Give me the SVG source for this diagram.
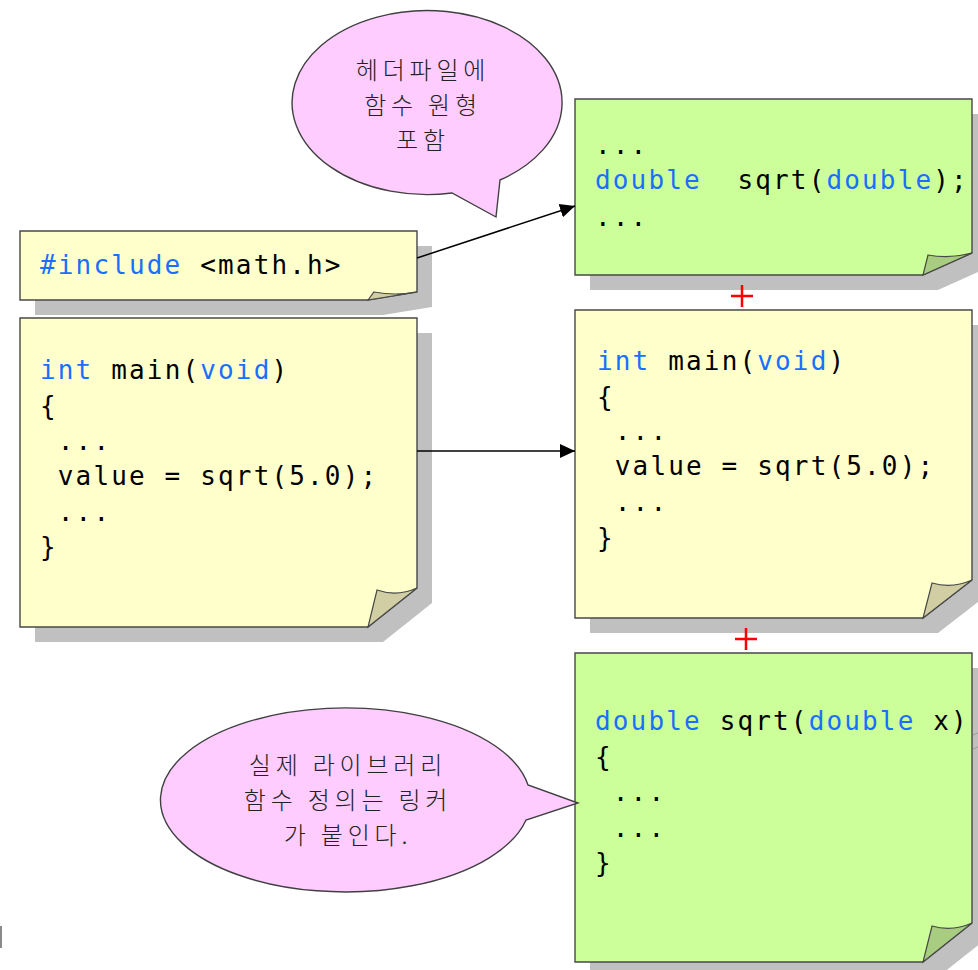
<svg xmlns="http://www.w3.org/2000/svg" width="978" height="970" viewBox="0 0 978 970">
<defs>
<style>
.shadow{fill:#c0c0c0;stroke:none}
.ybox{fill:#ffffcc;stroke:#484848;stroke-width:1.4}
.gbox{fill:#ccff99;stroke:#484848;stroke-width:1.4}
.yflap{fill:#d0cea2;stroke:#484848;stroke-width:1.2}
.gflap{fill:#a8cc80;stroke:#484848;stroke-width:1.2}
.code{font-family:"DejaVu Sans Mono","Liberation Mono",monospace;font-size:26px;letter-spacing:2.15px;fill:#000}
.kw{fill:#1a6fff}
.bubble{fill:#ffccff;stroke:#404040;stroke-width:1.4}
.ko{font-family:"Noto Sans CJK KR","Noto Sans",sans-serif;font-size:24px;letter-spacing:4.8px;font-weight:300;fill:#222;text-anchor:middle}
.conn{stroke:#000;stroke-width:1.5;fill:none}
.plus{stroke:#ff0000;stroke-width:2.5}
</style>
<marker id="arrow" markerUnits="userSpaceOnUse" markerWidth="16" markerHeight="16" viewBox="0 0 16 16" refX="15" refY="8" orient="auto">
<path d="M0,1 L15,8 L0,15 Z" fill="#000"/>
</marker>
</defs>
<rect width="978" height="970" fill="#ffffff"/>

<g id="include-note">
<path class="shadow" d="M35,246 H432 V307 L383,315 H35 Z"/>
<path class="ybox" d="M20,231 H417 V292 L368,300 H20 Z"/>
<path class="yflap" d="M368,300 L374,292 Q395,296 417,292 Z"/>
<text class="code" x="40" y="274"><tspan class="kw">#include</tspan> &lt;math.h&gt;</text>
</g>

<g id="main-left">
<path class="shadow" d="M35,333 H432 V603 L383,642 H35 Z"/>
<path class="ybox" d="M20,318 H417 V588 L368,627 H20 Z"/>
<path class="yflap" d="M368,627 L377,590 Q397,597 417,588 Z"/>
<text class="code" xml:space="preserve"><tspan x="40" y="379"><tspan class="kw">int</tspan> main(<tspan class="kw">void</tspan>)</tspan><tspan x="40" y="415">{</tspan><tspan x="40" y="450"> ...</tspan><tspan x="40" y="485"> value = sqrt(5.0);</tspan><tspan x="40" y="521"> ...</tspan><tspan x="40" y="556">}</tspan></text>
</g>

<g id="header-proto">
<path class="shadow" d="M590,114 H987 V268 L938,290 H590 Z"/>
<path class="gbox" d="M575,99 H972 V253 L923,275 H575 Z"/>
<path class="gflap" d="M923,275 L928,255 Q950,259 972,253 Z"/>
<text class="code" xml:space="preserve"><tspan x="595" y="154">...</tspan><tspan x="595" y="189"><tspan class="kw">double</tspan>  sqrt(<tspan class="kw">double</tspan>);</tspan><tspan x="595" y="226">...</tspan></text>
</g>

<g id="main-right">
<path class="shadow" d="M590,325 H987 V595 L938,633 H590 Z"/>
<path class="ybox" d="M575,310 H972 V580 L923,618 H575 Z"/>
<path class="yflap" d="M923,618 L932,583 Q952,589 972,580 Z"/>
<text class="code" xml:space="preserve"><tspan x="597" y="370"><tspan class="kw">int</tspan> main(<tspan class="kw">void</tspan>)</tspan><tspan x="597" y="406">{</tspan><tspan x="597" y="440"> ...</tspan><tspan x="597" y="475"> value = sqrt(5.0);</tspan><tspan x="597" y="511"> ...</tspan><tspan x="597" y="547">}</tspan></text>
</g>

<g id="lib-def">
<path class="shadow" d="M590,668 H987 V938 L938,977 H590 Z"/>
<path class="gbox" d="M575,653 H972 V923 L923,962 H575 Z"/>
<path class="gflap" d="M923,962 L932,926 Q952,932 972,923 Z"/>
<text class="code" xml:space="preserve"><tspan x="595" y="730"><tspan class="kw">double</tspan> sqrt(<tspan class="kw">double</tspan> x)</tspan><tspan x="595" y="766">{</tspan><tspan x="595" y="801"> ...</tspan><tspan x="595" y="837"> ...</tspan><tspan x="595" y="872">}</tspan></text>
</g>

<g id="bubble-header">
<path class="bubble" d="M452,193 A135,92 0 1 1 500,180 L496,217 Z"/>
<text class="ko" x="423" y="79">헤더파일에</text>
<text class="ko" x="423" y="114">함수 원형</text>
<text class="ko" x="423" y="149">포함</text>
</g>

<g id="bubble-linker">
<path class="bubble" d="M526,820 A185,92 0 1 1 528,785 L578,803 Z"/>
<text class="ko" x="348" y="774">실제 라이브러리</text>
<text class="ko" x="348" y="809">함수 정의는 링커</text>
<text class="ko" x="348" y="844">가 붙인다.</text>
</g>

<g id="plus-signs">
<path class="plus" d="M731,296 H753 M742,285 V307"/>
<path class="plus" d="M735,639 H757 M746,628 V650"/>
</g>

<g id="connectors">
<line class="conn" x1="417" y1="258" x2="575" y2="206" marker-end="url(#arrow)"/>
<line class="conn" x1="417" y1="451" x2="575" y2="451" marker-end="url(#arrow)"/>
</g>

<g id="edge-fragments">
<rect x="0" y="926" width="2" height="22" fill="#8a8a8a"/>
<path d="M973,735 L978,733 M973,749 L978,747" stroke="#999" stroke-width="1" fill="none"/>
</g>
</svg>
